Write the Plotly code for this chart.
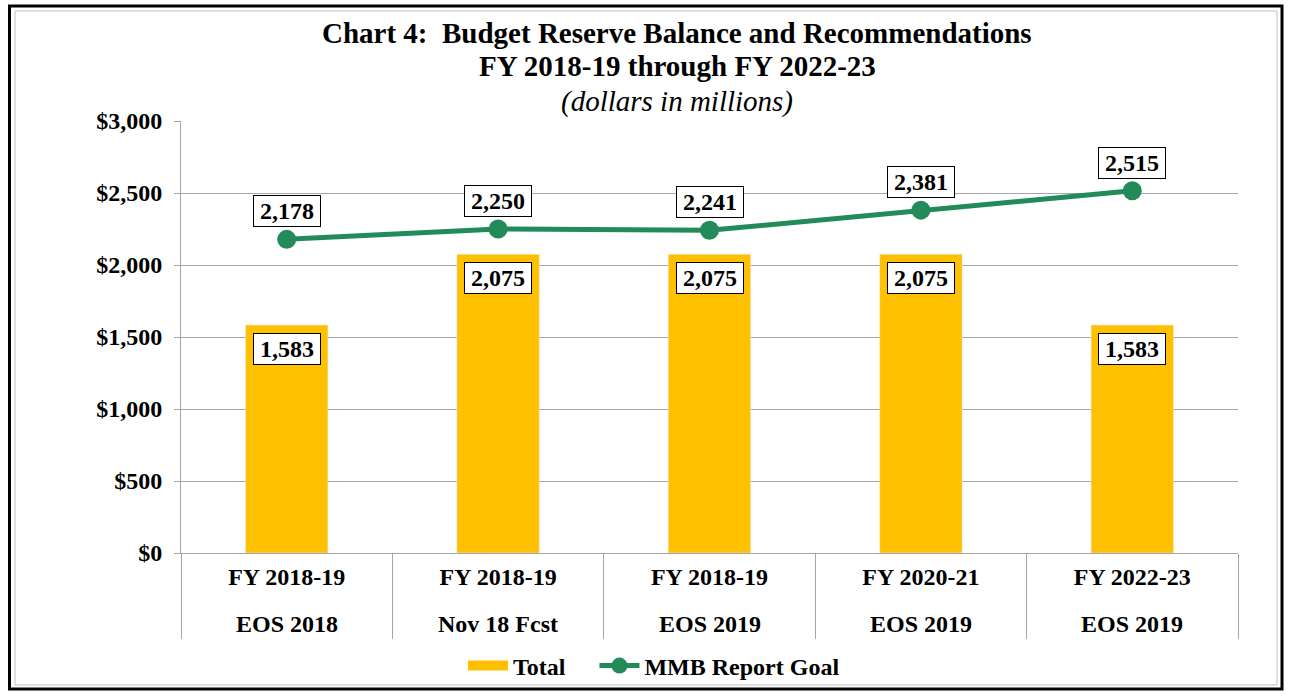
import plotly.graph_objects as go

categories_top = ["FY 2018-19", "FY 2018-19", "FY 2018-19", "FY 2020-21", "FY 2022-23"]
categories_bottom = ["EOS 2018", "Nov 18 Fcst", "EOS 2019", "EOS 2019", "EOS 2019"]
total_values = [1583, 2075, 2075, 2075, 1583]
goal_values = [2178, 2250, 2241, 2381, 2515]
y_tick_values = [0, 500, 1000, 1500, 2000, 2500, 3000]
y_tick_labels = ["$0", "$500", "$1,000", "$1,500", "$2,000", "$2,500", "$3,000"]

W, H = 1296, 700
L, R, T, B = 181, 1238, 121, 553
FONT = "Liberation Serif, Times New Roman, serif"
BAR_COLOR = "#FFC000"
LINE_COLOR = "#238B5A"
GRID = "#A6A6A6"


def bfont(size=24):
    return dict(family=FONT, size=size, color="black", weight="bold")


def px_to_paper_x(px):
    return (px - L) / (R - L)


def px_to_paper_y(py):
    return (B - py) / (B - T)


x_idx = list(range(len(categories_top)))

fig = go.Figure()
fig.add_trace(go.Bar(
    x=x_idx, y=total_values, name="Total", marker_color=BAR_COLOR,
    width=0.39, hoverinfo="skip", showlegend=False))
# legend proxy for the bar series (wide rectangular swatch)
fig.add_trace(go.Scatter(
    x=[None], y=[None], name="Total&nbsp;&nbsp;&nbsp;&nbsp;", mode="lines",
    line=dict(color=BAR_COLOR, width=13), showlegend=True))
fig.add_trace(go.Scatter(
    x=x_idx, y=goal_values, name="MMB Report Goal", mode="lines+markers",
    line=dict(color=LINE_COLOR, width=5),
    marker=dict(color=LINE_COLOR, size=19)))

annotations = []
for i, v in enumerate(total_values):
    annotations.append(dict(
        x=i, y=v, xref="x", yref="y", text=f"{v:,}", showarrow=False,
        yanchor="top", yshift=-8, bgcolor="white", bordercolor="black",
        borderwidth=1, borderpad=2, width=62, font=bfont()))
for i, v in enumerate(goal_values):
    annotations.append(dict(
        x=i, y=v, xref="x", yref="y", text=f"{v:,}", showarrow=False,
        yanchor="bottom", yshift=12, bgcolor="white", bordercolor="black",
        borderwidth=1, borderpad=2, width=62, font=bfont()))
for i, t in enumerate(categories_bottom):
    annotations.append(dict(
        x=i, y=0, xref="x", yref="y", text=t, showarrow=False,
        yanchor="middle", yshift=-(624 - B), font=bfont()))

title_lines = [
    ("Chart 4:&nbsp; Budget Reserve Balance and Recommendations", 33, "normal", "bold"),
    ("FY 2018-19 through FY 2022-23", 66, "normal", "bold"),
    ("(dollars in millions)", 101, "italic", "normal"),
]
for txt, py, style, weight in title_lines:
    annotations.append(dict(
        x=px_to_paper_x(677), y=px_to_paper_y(py), xref="paper", yref="paper",
        text=txt, showarrow=False, xanchor="center", yanchor="middle",
        font=dict(family=FONT, size=29, color="black", style=style, weight=weight)))

shapes = [
    dict(type="rect", xref="paper", yref="paper",
         x0=px_to_paper_x(9.5), x1=px_to_paper_x(1282), y0=px_to_paper_y(6), y1=px_to_paper_y(689),
         line=dict(color="black", width=3), fillcolor="rgba(0,0,0,0)", layer="below"),
    dict(type="rect", xref="paper", yref="paper",
         x0=px_to_paper_x(15), x1=px_to_paper_x(1277), y0=px_to_paper_y(11), y1=px_to_paper_y(685),
         line=dict(color="#BFBFBF", width=1), fillcolor="rgba(0,0,0,0)", layer="below"),
]

fig.update_layout(
    width=W, height=H,
    margin=dict(l=L, r=W - R, t=T, b=H - B, pad=0),
    paper_bgcolor="white", plot_bgcolor="white",
    font=dict(family=FONT, size=24, color="black"),
    showlegend=True,
    legend=dict(orientation="h", xref="container", yref="container",
                x=654 / W, y=1 - 666 / H, xanchor="center", yanchor="middle",
                bgcolor="rgba(0,0,0,0)",
                font=bfont(), itemwidth=40, tracegroupgap=0),
    annotations=annotations,
    shapes=shapes,
    hovermode=False,
)
fig.update_xaxes(
    range=[-0.5, len(x_idx) - 0.5],
    tickmode="array", tickvals=x_idx, ticktext=categories_top,
    showgrid=False, zeroline=False,
    showline=True, linecolor=GRID, linewidth=1,
    ticks="", tickfont=bfont(), ticklabelstandoff=2,
    minor=dict(tickmode="array", tickvals=[i - 0.5 for i in range(len(x_idx) + 1)],
               ticks="outside", ticklen=638 - B, tickcolor=GRID, tickwidth=1,
               showgrid=False),
)
fig.update_yaxes(
    range=[0, 3000], tickmode="array", tickvals=y_tick_values, ticktext=y_tick_labels,
    showgrid=True, gridcolor=GRID, gridwidth=1, zeroline=False,
    showline=True, linecolor=GRID, linewidth=1,
    ticks="outside", ticklen=6, tickcolor=GRID,
    tickfont=bfont(), ticklabelstandoff=7,
)

fig.write_html("out.html", config={"displayModeBar": False},
               post_script="document.body.style.margin='0';")
